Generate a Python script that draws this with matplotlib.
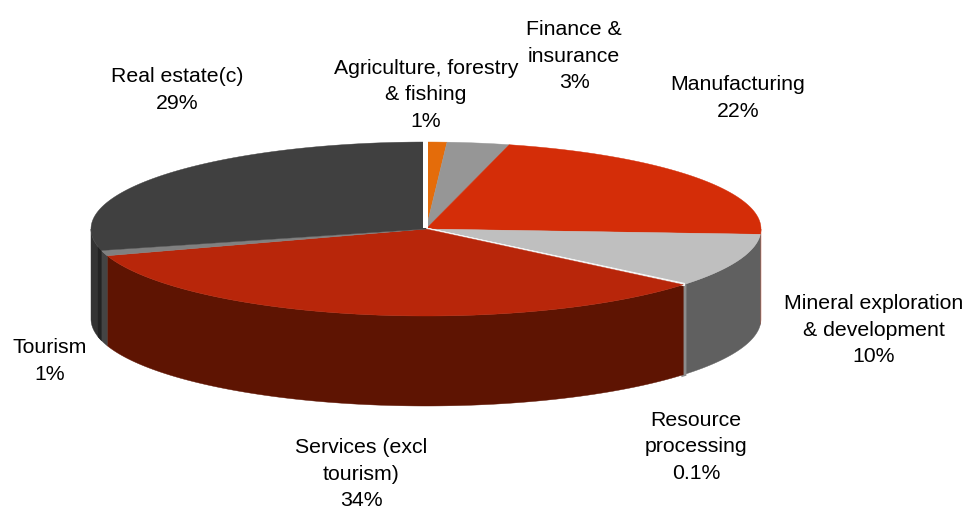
import numpy as np
import matplotlib
matplotlib.use("Agg")
import matplotlib.pyplot as plt
from matplotlib.patches import Polygon

plt.rcParams["font.family"] = ["Liberation Sans", "DejaVu Sans"]

# Share of the total by sector, clockwise from twelve o'clock
sectors = ["Agriculture, forestry\n& fishing", "Finance &\ninsurance", "Manufacturing",
           "Mineral exploration\n& development", "Resource\nprocessing",
           "Services (excl\ntourism)", "Tourism", "Real estate(c)"]
shares = [1, 3, 22, 10, 0.1, 34, 1, 29]
top_colors = ["#e46c0a", "#969696", "#d42d08", "#bfbfbf", "#f2f2f2", "#b8260a", "#808080", "#404040"]
side_colors = ["#8a4106", "#5a5a5a", "#c8553c", "#606060", "#8c8c8c", "#5e1402", "#444444", "#333333"]
label_centers = [(426, 95), (574, 56), (738, 98), (874, 330), (696, 447), (361, 474), (50, 361), (177, 90)]

# Geometry of the tilted disc, in pixels
CX, CY, RX, RY, DEPTH = 426.0, 229.0, 335.0, 87.0, 90.0


def rim(deg):
    """Points on the upper rim for clockwise angles from twelve o'clock."""
    t = np.radians(deg)
    return CX + RX * np.sin(t), CY - RY * np.cos(t)


def wall(a, b, color, width):
    """Outer wall between two rim angles."""
    x, y = rim(np.linspace(a, b, 200))
    pts = np.r_[np.c_[x, y], np.c_[x[::-1], y[::-1] + DEPTH]]
    ax.add_patch(Polygon(pts, closed=True, fc=color, ec=color, lw=width, zorder=2))


fig = plt.figure(figsize=(9.65, 5.11), dpi=100)
ax = fig.add_axes([0, 0, 1, 1])
ax.set_xlim(0, 965)
ax.set_ylim(511, 0)
ax.axis("off")

edges = np.concatenate([[0], np.cumsum(shares)]) * 360.0 / sum(shares)

# Only the part of the outer wall facing the viewer is visible
for start, end, color in zip(edges[:-1], edges[1:], side_colors):
    a, b = max(start, 90.0), min(end, 270.0)
    if b > a:
        wall(a, b, color, 2.6 if end - start < 1 else 0.3)

# Darker shading band on the wall next to the tourism slice
wall(edges[7], edges[7] + 2.5, "#222222", 0.3)

# Top faces
for start, end, color in zip(edges[:-1], edges[1:], top_colors):
    x, y = rim(np.linspace(start, end, 200))
    pts = np.r_[[[CX, CY]], np.c_[x, y]]
    ax.add_patch(Polygon(pts, closed=True, fc=color, ec=color,
                         lw=2.0 if end - start < 1 else 0.3, zorder=3))

# Narrow white notch where the first and last slices meet
notch_x = [CX - 3, CX + 2, CX + 2, CX - 3]
notch_y = [CY - 1, CY - 1, CY - RY - 3, CY - RY - 3]
ax.add_patch(Polygon(np.c_[notch_x, notch_y], closed=True, fc="white", ec="none", zorder=4))

for name, share, (lx, ly) in zip(sectors, shares, label_centers):
    ax.text(lx, ly, f"{name}\n{share:g}%", ha="center", va="center", fontsize=15.3,
            color="black", linespacing=1.53, zorder=5)

fig.savefig("out.png", dpi=100)
